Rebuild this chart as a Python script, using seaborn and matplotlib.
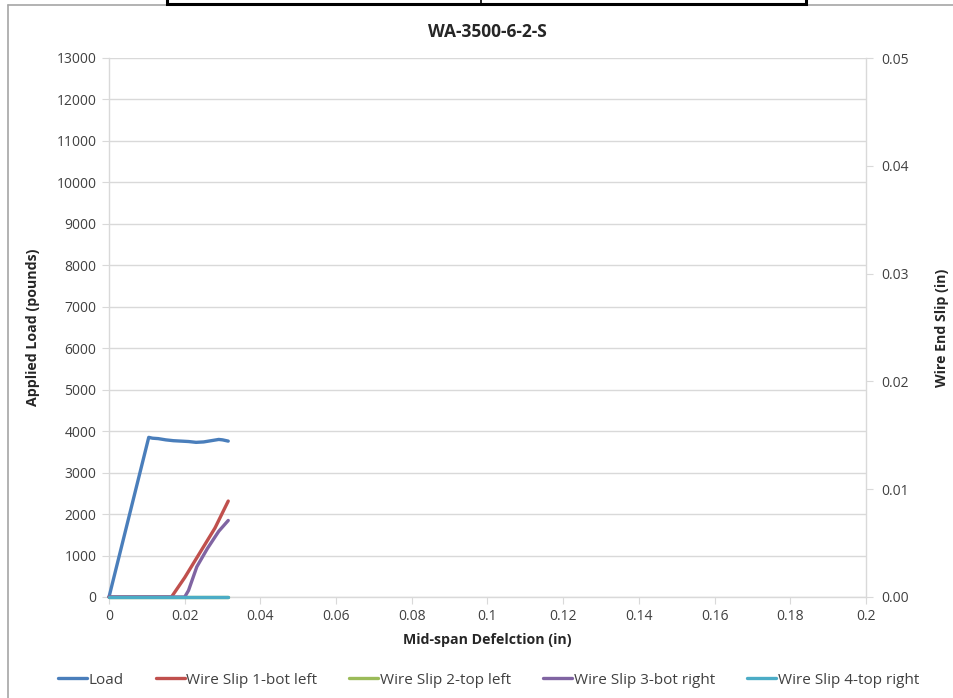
import matplotlib
matplotlib.use("Agg")
import matplotlib.pyplot as plt
import seaborn as sns
import pandas as pd
import numpy as np
from matplotlib.ticker import FuncFormatter, MultipleLocator
from matplotlib.lines import Line2D
from matplotlib.patches import Rectangle

# ---- data ----
load_defl = [0.0, 0.0105, 0.0115, 0.013, 0.015, 0.017, 0.019, 0.021, 0.023, 0.025, 0.027, 0.029, 0.030, 0.0315]
load_vals = [0, 3850, 3830, 3820, 3790, 3770, 3760, 3750, 3730, 3740, 3770, 3800, 3790, 3760]

slip1_defl = [0.0, 0.0165, 0.020, 0.024, 0.028, 0.0315]
slip1_vals = [0.0, 0.0, 0.0018, 0.0041, 0.0064, 0.0089]

slip2_defl = [0.0, 0.0315]
slip2_vals = [0.0, 0.0]

slip3_defl = [0.0, 0.0200, 0.0210, 0.0232, 0.026, 0.029, 0.0315]
slip3_vals = [0.0, 0.0, 0.0006, 0.0028, 0.0045, 0.0061, 0.0071]

slip4_defl = [0.0, 0.0315]
slip4_vals = [0.0, 0.0]

series_names = ["Load", "Wire Slip 1-bot left", "Wire Slip 2-top left",
                "Wire Slip 3-bot right", "Wire Slip 4-top right"]
colors = ["#4A7EBB", "#C0504D", "#9BBB59", "#8064A2", "#4BACC6"]

sns.set_style("white")
plt.rcParams['font.family'] = ['Open Sans', 'DejaVu Sans']

fig = plt.figure(figsize=(9.54, 6.98), dpi=100)
ax = fig.add_axes([109/954, 1-597/698, (866-109)/954, (597-58)/698])
ax2 = ax.twinx()

load_df = pd.DataFrame({"x": load_defl, "y": load_vals})
sns.lineplot(data=load_df, x="x", y="y", ax=ax, color=colors[0], lw=2.4,
             sort=False, estimator=None, zorder=3)

slip_sets = [(slip1_defl, slip1_vals), (slip2_defl, slip2_vals),
             (slip3_defl, slip3_vals), (slip4_defl, slip4_vals)]
for (dx, dv), c in zip(slip_sets, colors[1:]):
    df = pd.DataFrame({"x": dx, "y": dv})
    sns.lineplot(data=df, x="x", y="y", ax=ax2, color=c, lw=2.4,
                 sort=False, estimator=None)

for a in (ax, ax2):
    for ln in a.get_lines():
        ln.set_clip_on(False)
        ln.set_solid_capstyle("round")

ax.set_xlim(0, 0.2)
ax.set_ylim(0, 13000)
ax2.set_ylim(0, 0.05)
ax.xaxis.set_major_locator(MultipleLocator(0.02))
ax.yaxis.set_major_locator(MultipleLocator(1000))
ax2.yaxis.set_major_locator(MultipleLocator(0.01))

def xfmt(v, p):
    s = "%.2f" % v
    s = s.rstrip("0").rstrip(".")
    return s if s else "0"
ax.xaxis.set_major_formatter(FuncFormatter(xfmt))
ax2.yaxis.set_major_formatter(FuncFormatter(lambda v, p: "%.2f" % v))

ax.grid(axis="y", color="#D9D9D9", lw=1)
ax.set_axisbelow(True)

for a in (ax, ax2):
    for s in a.spines.values():
        s.set_visible(False)
ax.spines["left"].set_visible(True)
ax.spines["bottom"].set_visible(True)
ax2.spines["right"].set_visible(True)
for s in (ax.spines["left"], ax.spines["bottom"], ax2.spines["right"]):
    s.set_color("#D9D9D9")
    s.set_linewidth(1)

ax.tick_params(axis="both", which="major", direction="out", length=5, color="#D9D9D9",
               labelsize=10, labelcolor="#404040", left=True, bottom=True, pad=4)
ax2.tick_params(axis="y", direction="out", length=5, color="#D9D9D9",
                labelsize=10, labelcolor="#404040", right=True, pad=6)

ax.set_xlabel("Mid-span Defelction (in)", fontsize=10.2, fontweight="bold", labelpad=6)
ax.set_ylabel("Applied Load (pounds)", fontsize=10.2, fontweight="bold", labelpad=12)
ax2.set_ylabel("Wire End Slip (in)", fontsize=10.2, fontweight="bold", labelpad=19)
ax.set_title("WA-3500-6-2-S", fontsize=12.5, fontweight="bold", pad=15)

handles = [Line2D([0], [0], color=c, lw=2.4) for c in colors]
fig.legend(handles, series_names, loc="center", bbox_to_anchor=(0.512, 1-680/698),
           ncol=5, frameon=False, fontsize=11, handlelength=1.9, handletextpad=0.1,
           columnspacing=2.1, labelcolor="#404040")

# chart frame and cropped table box
fig.add_artist(Line2D([8/954, 8/954], [0, 1-5/698], color="#A6A6A6", lw=1.2, transform=fig.transFigure))
fig.add_artist(Line2D([8/954, 1], [1-5/698, 1-5/698], color="#A6A6A6", lw=1.2, transform=fig.transFigure))
fig.add_artist(Rectangle((167/954, 1-4/698), (806-167)/954, 0.02, transform=fig.transFigure,
                         facecolor="white", edgecolor="black", lw=2.2, zorder=10))
fig.add_artist(Line2D([481/954, 481/954], [1-4/698, 1], color="black", lw=1.2, transform=fig.transFigure, zorder=11))

fig.savefig("out.png", dpi=100)
